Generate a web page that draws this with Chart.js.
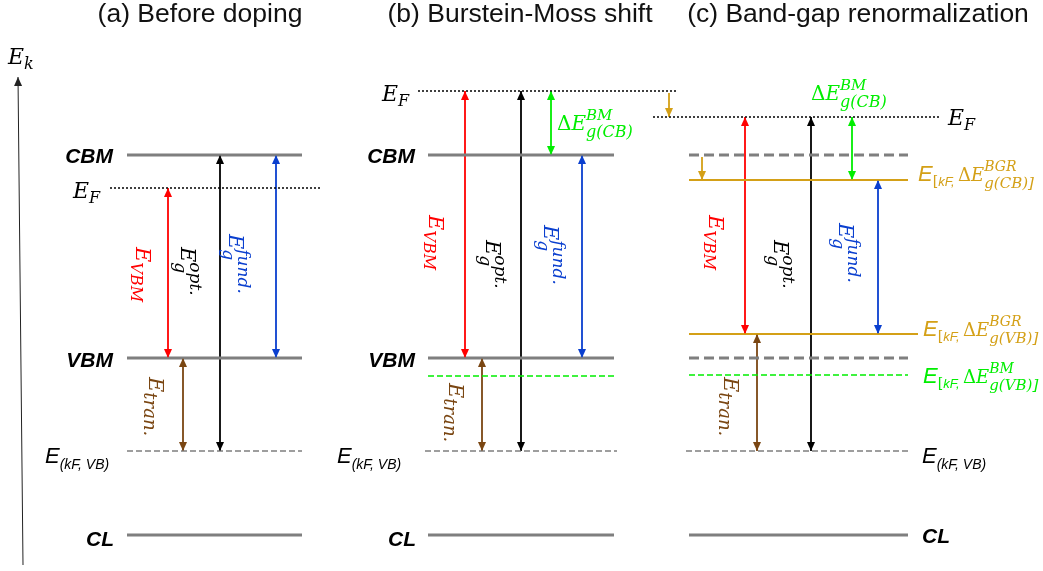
<!DOCTYPE html>
<html>
<head>
<meta charset="utf-8">
<script src="https://cdn.jsdelivr.net/npm/chart.js@4.4.0/dist/chart.umd.min.js"></script>
<style>
  html, body { margin: 0; padding: 0; background: #fff; }
  canvas { display: block; }
</style>
</head>
<body>
<canvas id="bands" width="1043" height="571"></canvas>
<script>
// --- Data: energy levels (arbitrary units) ---
const panelTitles = ['(a) Before doping', '(b) Burstein-Moss shift', '(c) Band-gap renormalization'];
const levelKeys = ['CL', 'kFVB', 'VBM', 'CBM', 'EF', 'bmVB', 'bgrCB', 'bgrVB'];
const energyBefore = [36, 120, 213, 416, 383, null, null, null];
const energyBM = [36, 120, 213, 416, 480, 195, null, null];
const energyBGR = [36, 120, 213, 416, 454, 196, 391, 237];

// transitions: [kind, lower level, upper level]
const transBefore = [['EVBM', 'VBM', 'EF'], ['opt', 'kFVB', 'CBM'], ['fund', 'VBM', 'CBM'], ['tran', 'kFVB', 'VBM']];
const transBM = [['EVBM', 'VBM', 'EF'], ['opt', 'kFVB', 'EF'], ['BM', 'CBM', 'EF'], ['fund', 'VBM', 'CBM'], ['tran', 'kFVB', 'VBM']];
const transBGR = [['EVBM', 'bgrVB', 'EF'], ['opt', 'kFVB', 'EF'], ['BM', 'bgrCB', 'EF'], ['fund', 'bgrVB', 'bgrCB'], ['tran', 'kFVB', 'bgrVB']];

// --- Layout (x in diagram units, same width as canvas) ---
const panels = [
  { E: energyBefore, trans: transBefore, span: [127, 302], ef: [110, 320], kf: [127, 302],
    ax: { EVBM: 168, opt: 220, fund: 276, tran: 183 } },
  { E: energyBM, trans: transBM, span: [428, 614], ef: [418, 676], kf: [425, 617],
    ax: { EVBM: 465, opt: 521, BM: 551, fund: 582, tran: 482 } },
  { E: energyBGR, trans: transBGR, span: [689, 908], ef: [653, 940], kf: [686, 909],
    ax: { EVBM: 745, opt: 811, BM: 852, fund: 878, tran: 757 } }
];

const colors = { EVBM: '#ff0000', opt: '#000000', fund: '#0a3fcf', tran: '#7a4612', BM: '#00ee00' };
const GOLD = '#d4a017';

function lvl(arr, key) { return arr[levelKeys.indexOf(key)]; }

function seg(x0, x1, e0, e1, style) {
  return Object.assign({
    data: [{ x: x0, y: e0 }, { x: x1, y: e1 }],
    showLine: true, pointRadius: 0, pointHoverRadius: 0, fill: false, tension: 0,
    borderCapStyle: 'butt'
  }, style);
}

const BAND = { borderColor: '#7f7f7f', borderWidth: 3 };
const OLD = { borderColor: '#7f7f7f', borderWidth: 3, borderDash: [10, 5] };
const KF = { borderColor: '#7f7f7f', borderWidth: 1.6, borderDash: [6, 3] };
const FERMI = { borderColor: '#000', borderWidth: 1.6, borderDash: [2, 2] };
const BMLINE = { borderColor: '#00ee00', borderWidth: 1.6, borderDash: [6, 3] };
const BGRLINE = { borderColor: GOLD, borderWidth: 2 };

const datasets = [];
panels.forEach((p, i) => {
  const [l, r] = p.span;
  datasets.push(seg(l, r, lvl(p.E, 'CL'), lvl(p.E, 'CL'), BAND));
  datasets.push(seg(p.kf[0], p.kf[1], lvl(p.E, 'kFVB'), lvl(p.E, 'kFVB'), KF));
  const bandStyle = i === 2 ? OLD : BAND;
  datasets.push(seg(l, r, lvl(p.E, 'VBM'), lvl(p.E, 'VBM'), bandStyle));
  datasets.push(seg(l, r, lvl(p.E, 'CBM'), lvl(p.E, 'CBM'), bandStyle));
  datasets.push(seg(p.ef[0], p.ef[1], lvl(p.E, 'EF'), lvl(p.E, 'EF'), FERMI));
  if (lvl(p.E, 'bmVB') != null) datasets.push(seg(l, r, lvl(p.E, 'bmVB'), lvl(p.E, 'bmVB'), BMLINE));
  if (lvl(p.E, 'bgrCB') != null) datasets.push(seg(l, r, lvl(p.E, 'bgrCB'), lvl(p.E, 'bgrCB'), BGRLINE));
  if (lvl(p.E, 'bgrVB') != null) datasets.push(seg(l, r + 10, lvl(p.E, 'bgrVB'), lvl(p.E, 'bgrVB'), BGRLINE));

  p.trans.forEach(([kind, lo, hi]) => {
    const x = p.ax[kind];
    datasets.push(seg(x, x, lvl(p.E, lo), lvl(p.E, hi),
      { borderColor: colors[kind], borderWidth: 1.8, arrow: 'both' }));
  });
});

// single-headed shift arrows (gold)
datasets.push(seg(669, 669, lvl(energyBM, 'EF') - 2, lvl(energyBGR, 'EF'),
  { borderColor: GOLD, borderWidth: 1.8, arrow: 'end' }));
datasets.push(seg(702, 702, lvl(energyBGR, 'CBM') - 2, lvl(energyBGR, 'bgrCB'),
  { borderColor: GOLD, borderWidth: 1.8, arrow: 'end' }));
// energy axis
datasets.push(seg(23, 18, 6, 494, { borderColor: '#222', borderWidth: 1, arrow: 'end' }));

// --- Arrow heads ---
function head(ctx, from, tip, color) {
  const dx = tip.x - from.x, dy = tip.y - from.y;
  const len = Math.hypot(dx, dy) || 1;
  const ux = dx / len, uy = dy / len;
  const L = 9, w = 4;
  ctx.beginPath();
  ctx.moveTo(tip.x, tip.y);
  ctx.lineTo(tip.x - ux * L - uy * w, tip.y - uy * L + ux * w);
  ctx.lineTo(tip.x - ux * L + uy * w, tip.y - uy * L - ux * w);
  ctx.closePath();
  ctx.fillStyle = color;
  ctx.fill();
}

const arrowHeads = {
  id: 'arrowHeads',
  afterDatasetsDraw(chart) {
    const ctx = chart.ctx;
    ctx.save();
    chart.data.datasets.forEach((ds, i) => {
      if (!ds.arrow) return;
      const pts = chart.getDatasetMeta(i).data;
      head(ctx, pts[0], pts[1], ds.borderColor);
      if (ds.arrow === 'both') head(ctx, pts[1], pts[0], ds.borderColor);
    });
    ctx.restore();
  }
};

// --- Text ---
const SANS = '"Liberation Sans", Arial, sans-serif';
const SERIF = '"DejaVu Serif", "Liberation Serif", serif';
const fi = (s) => `italic ${s}px ${SERIF}`;
const fr = (s) => `${s}px ${SERIF}`;
const si = (s) => `italic ${s}px ${SANS}`;
const sbi = (s) => `italic bold ${s}px ${SANS}`;

function runsWidth(ctx, runs) {
  let w = 0, held = 0;
  runs.forEach(r => {
    ctx.font = r.f;
    const m = ctx.measureText(r.t).width;
    if (r.hold) held = m; else { w += Math.max(m, held); held = 0; }
  });
  return w;
}

function rich(ctx, x, y, runs, color, align, rot) {
  ctx.save();
  ctx.translate(x, y);
  if (rot) ctx.rotate(rot);
  ctx.textBaseline = 'alphabetic';
  ctx.textAlign = 'left';
  const total = runsWidth(ctx, runs);
  let cx = align === 'right' ? -total : align === 'center' ? -total / 2 : 0;
  let held = 0;
  runs.forEach(r => {
    ctx.font = r.f;
    ctx.fillStyle = r.c || color;
    const m = ctx.measureText(r.t).width;
    ctx.fillText(r.t, cx, r.dy || 0);
    if (r.hold) held = m; else { cx += Math.max(m, held); held = 0; }
  });
  ctx.restore();
}

const lblVBM = [{ t: 'E', f: fi(21) }, { t: 'VBM', f: fi(16), dy: 5 }];
const lblOpt = [{ t: 'E', f: fi(21) }, { t: 'g', f: fi(17), dy: 6, hold: true }, { t: 'opt.', f: fi(17), dy: -9 }];
const lblFund = [{ t: 'E', f: fi(21) }, { t: 'g', f: fi(17), dy: 6, hold: true }, { t: 'fund.', f: fi(17), dy: -9 }];
const lblTran = [{ t: 'E', f: fi(21) }, { t: 'tran.', f: fi(18), dy: 5 }];
const lblEF = [{ t: 'E', f: fi(22) }, { t: 'F', f: fi(16), dy: 5 }];
const lblKF = [{ t: 'E', f: si(22) }, { t: '(kF, VB)', f: si(14), dy: 6 }];
const lblDeltaBM = [{ t: 'Δ', f: fr(20) }, { t: 'E', f: fi(20) }, { t: 'g(CB)', f: fi(16), dy: 7, hold: true }, { t: 'BM', f: fi(15), dy: -10 }];
function bracketLabel(sup, sub) {
  return [{ t: 'E', f: si(22) }, { t: '[', f: fr(14), dy: 5 }, { t: 'kF, ', f: si(13), dy: 5 },
    { t: 'Δ', f: fr(18) }, { t: 'E', f: fi(18) },
    { t: sub, f: fi(15), dy: 7, hold: true }, { t: sup, f: fi(14), dy: -10 }];
}

// rotated label anchors per panel: [x of baseline, energy of first glyph]
const rotAnchors = [
  { EVBM: [136, 324], opt: [181, 324], fund: [229, 337], tran: [149, 194] },
  { EVBM: [429, 356], opt: [486, 331], fund: [544, 346], tran: [449, 188] },
  { EVBM: [709, 356], opt: [774, 331], fund: [839, 348], tran: [724, 194] }
];
const rotLabels = { EVBM: lblVBM, opt: lblOpt, fund: lblFund, tran: lblTran };

const textPlugin = {
  id: 'bandText',
  afterDraw(chart) {
    const ctx = chart.ctx;
    const X = v => chart.scales.x.getPixelForValue(v);
    const Y = v => chart.scales.y.getPixelForValue(v);

    // titles
    [200, 520, 858].forEach((cx, i) => {
      ctx.save();
      ctx.font = `26.5px ${SANS}`;
      ctx.fillStyle = '#111';
      ctx.textAlign = 'center';
      ctx.fillText(panelTitles[i], X(cx), Y(549));
      ctx.restore();
    });

    // axis label
    rich(ctx, X(8), Y(507), [{ t: 'E', f: fi(22) }, { t: 'k', f: fi(16), dy: 5 }], '#000');

    // band labels (a), (b)
    [[113, 0], [415, 1]].forEach(([xr, i]) => {
      const E = panels[i].E;
      rich(ctx, X(xr), Y(lvl(E, 'CBM')) + 8, [{ t: 'CBM', f: sbi(21) }], '#000', 'right');
      rich(ctx, X(xr), Y(lvl(E, 'VBM')) + 9, [{ t: 'VBM', f: sbi(21) }], '#000', 'right');
      rich(ctx, X(xr + 1), Y(lvl(E, 'CL')) + 11, [{ t: 'CL', f: sbi(21) }], '#000', 'right');
    });
    rich(ctx, X(922), Y(lvl(energyBGR, 'CL')) + 8, [{ t: 'CL', f: sbi(21) }], '#000');

    // Fermi level labels
    rich(ctx, X(73), Y(lvl(energyBefore, 'EF')) + 10, lblEF, '#000');
    rich(ctx, X(382), Y(lvl(energyBM, 'EF')) + 10, lblEF, '#000');
    rich(ctx, X(948), Y(lvl(energyBGR, 'EF')) + 8, lblEF, '#000');

    // E(kF, VB) labels
    rich(ctx, X(45), Y(lvl(energyBefore, 'kFVB')) + 12, lblKF, '#000');
    rich(ctx, X(337), Y(lvl(energyBM, 'kFVB')) + 12, lblKF, '#000');
    rich(ctx, X(922), Y(lvl(energyBGR, 'kFVB')) + 12, lblKF, '#000');

    // Burstein-Moss shift labels
    rich(ctx, X(557), Y(441), lblDeltaBM, '#00ee00');
    rich(ctx, X(811), Y(471), lblDeltaBM, '#00ee00');

    // renormalized levels
    rich(ctx, X(918), Y(lvl(energyBGR, 'bgrCB')) + 1, bracketLabel('BGR', 'g(CB)]'), GOLD);
    rich(ctx, X(923), Y(lvl(energyBGR, 'bgrVB')) + 2, bracketLabel('BGR', 'g(VB)]'), GOLD);
    rich(ctx, X(923), Y(lvl(energyBGR, 'bmVB')) + 8, bracketLabel('BM', 'g(VB)]'), '#00ee00');

    // rotated transition labels
    rotAnchors.forEach(a => {
      Object.keys(a).forEach(k => {
        rich(ctx, X(a[k][0]), Y(a[k][1]), rotLabels[k], colors[k], 'left', Math.PI / 2);
      });
    });
  }
};

new Chart(document.getElementById('bands').getContext('2d'), {
  type: 'scatter',
  data: { datasets },
  options: {
    responsive: false,
    animation: false,
    layout: { padding: 0 },
    plugins: { legend: { display: false }, tooltip: { enabled: false } },
    scales: {
      x: { type: 'linear', display: false, min: 0, max: 1043 },
      y: { type: 'linear', display: false, min: 0, max: 571 }
    }
  },
  plugins: [arrowHeads, textPlugin]
});
</script>
</body>
</html>
